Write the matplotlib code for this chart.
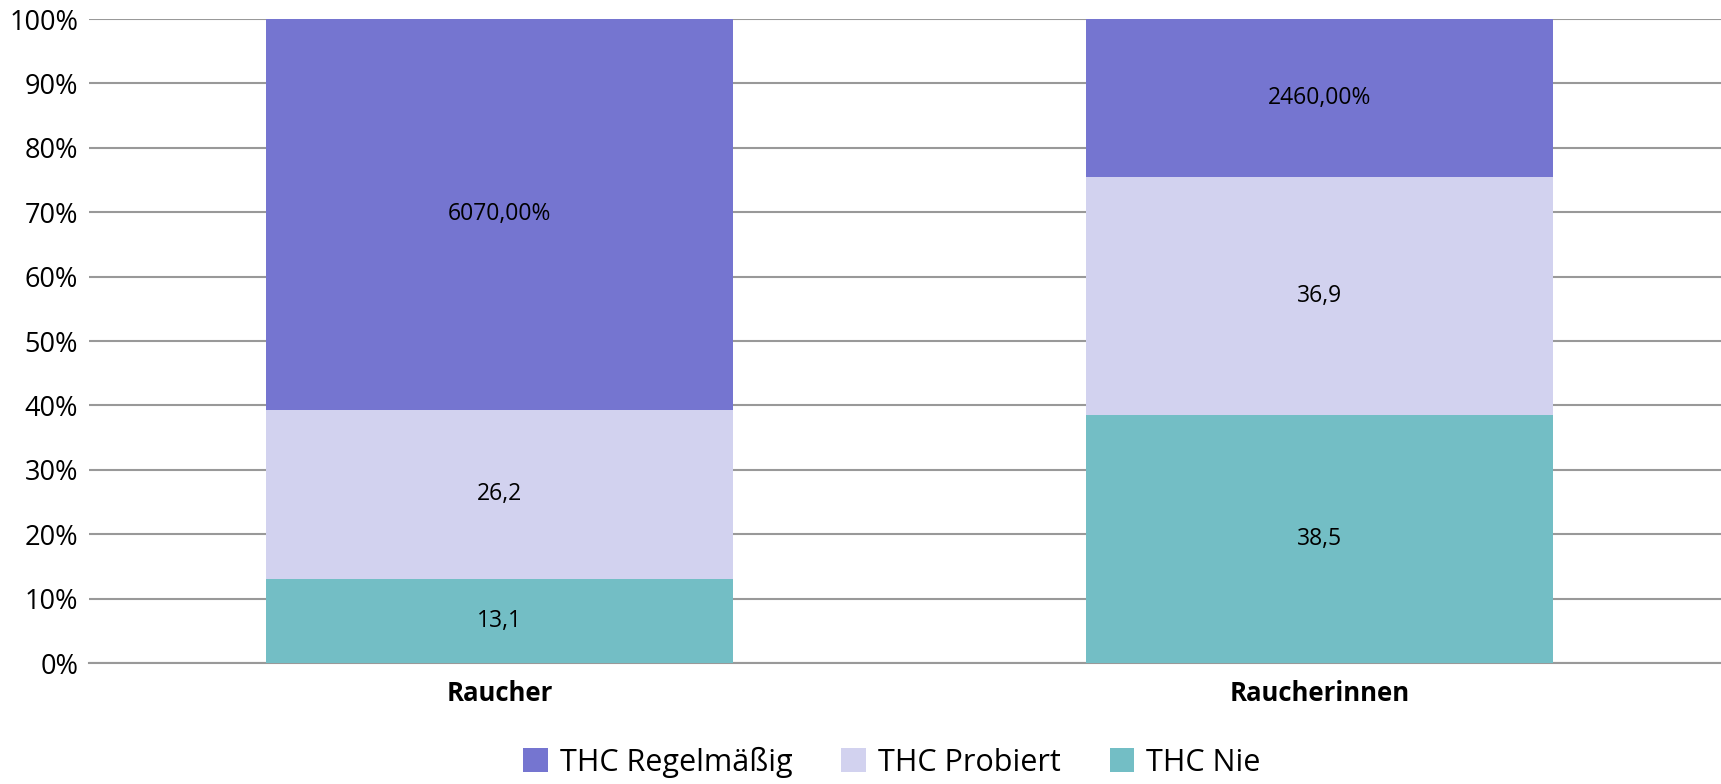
import numpy as np
import matplotlib.pyplot as plt
from matplotlib.ticker import PercentFormatter

plt.rcParams['font.family'] = ['Open Sans', 'DejaVu Sans']

categories = ['Raucher', 'Raucherinnen']
series_names = ['THC Regelmäßig', 'THC Probiert', 'THC Nie']
nie = [13.1, 38.5]
probiert = [26.2, 36.9]
regelmaessig = [60.7, 24.6]
labels_nie = ['13,1', '38,5']
labels_probiert = ['26,2', '36,9']
labels_regel = ['6070,00%', '2460,00%']

colors = {'THC Regelmäßig': '#7575d0', 'THC Probiert': '#d2d2ef', 'THC Nie': '#73bec5'}

fig = plt.figure(figsize=(17.21, 7.84), dpi=100)
ax = fig.add_axes([89.4/1721, 1 - 663/784, 1640/1721, (663 - 19)/784])

x = np.arange(len(categories))
w = 0.57
totals = np.array(nie) + np.array(probiert) + np.array(regelmaessig)
p_nie = np.array(nie) / totals * 100
p_prob = np.array(probiert) / totals * 100
p_reg = np.array(regelmaessig) / totals * 100

b1 = ax.bar(x, p_nie, w, color=colors['THC Nie'], label='THC Nie', zorder=3)
b2 = ax.bar(x, p_prob, w, bottom=p_nie, color=colors['THC Probiert'], label='THC Probiert', zorder=3)
b3 = ax.bar(x, p_reg, w, bottom=p_nie + p_prob, color=colors['THC Regelmäßig'], label='THC Regelmäßig', zorder=3)

for bars, labs in [(b1, labels_nie), (b2, labels_probiert), (b3, labels_regel)]:
    ax.bar_label(bars, labels=labs, label_type='center', fontsize=16.5, color='black')

ax.set_xlim(-0.5, 1.5)
ax.set_ylim(0, 100)
ax.set_yticks(np.arange(0, 101, 10))
ax.yaxis.set_major_formatter(PercentFormatter(decimals=0))
ax.set_xticks(x)
ax.set_xticklabels(categories, fontsize=18.5, fontweight='bold')
ax.tick_params(axis='y', labelsize=19.5, length=0, pad=8)
ax.tick_params(axis='x', length=0, pad=12)
ax.grid(axis='y', color='#999999', linewidth=1.5, zorder=0)
for s in ['top', 'right', 'left']:
    ax.spines[s].set_visible(False)
ax.spines['bottom'].set_color('#999999')
ax.spines['bottom'].set_linewidth(1.5)

handles = [b3, b2, b1]
fig.legend(handles, series_names, loc='center', bbox_to_anchor=(892/1721, 1 - 762/784),
           ncol=3, frameon=False, fontsize=22, handlelength=0.8, handleheight=0.8,
           columnspacing=1.6, handletextpad=0.4)

fig.savefig('out.png', dpi=100)
